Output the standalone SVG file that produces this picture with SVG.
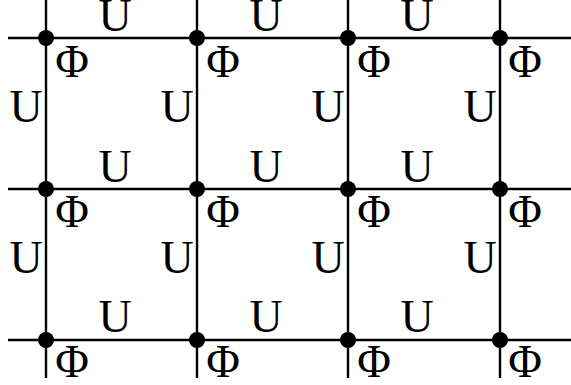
<svg xmlns="http://www.w3.org/2000/svg" width="571" height="385" viewBox="0 0 571 385">
<style>
.ln{stroke:#000;stroke-width:2.4;fill:none}
.dot{fill:#000}
text{font-family:"Liberation Serif","Times New Roman",serif;font-size:46px;fill:#000;text-anchor:middle}
</style>
<rect width="571" height="385" fill="#fff"/>
<g id="connectors">
<line class="ln" x1="8" y1="38" x2="571" y2="38"/>
<line class="ln" x1="8" y1="189" x2="571" y2="189"/>
<line class="ln" x1="8" y1="340" x2="571" y2="340"/>
<line class="ln" x1="46" y1="0" x2="46" y2="378"/>
<line class="ln" x1="197" y1="0" x2="197" y2="378"/>
<line class="ln" x1="348" y1="0" x2="348" y2="378"/>
<line class="ln" x1="500" y1="0" x2="500" y2="378"/>
</g>
<g id="edge-labels">
<text x="115" y="31">U</text><text x="266" y="31">U</text><text x="417" y="31">U</text>
<text x="115" y="182">U</text><text x="266" y="182">U</text><text x="417" y="182">U</text>
<text x="115" y="332">U</text><text x="266" y="332">U</text><text x="417" y="332">U</text>
<text x="26" y="122">U</text><text x="177" y="122">U</text><text x="328" y="122">U</text><text x="480" y="122">U</text>
<text x="26" y="273">U</text><text x="177" y="273">U</text><text x="328" y="273">U</text><text x="480" y="273">U</text>
</g>
<g id="n00"><circle class="dot" cx="46" cy="38" r="8"/><text x="72" y="77">Φ</text></g>
<g id="n01"><circle class="dot" cx="197" cy="38" r="8"/><text x="223" y="77">Φ</text></g>
<g id="n02"><circle class="dot" cx="348" cy="38" r="8"/><text x="374" y="77">Φ</text></g>
<g id="n03"><circle class="dot" cx="500" cy="38" r="8"/><text x="525" y="77">Φ</text></g>
<g id="n10"><circle class="dot" cx="46" cy="189" r="8"/><text x="72" y="227">Φ</text></g>
<g id="n11"><circle class="dot" cx="197" cy="189" r="8"/><text x="223" y="227">Φ</text></g>
<g id="n12"><circle class="dot" cx="348" cy="189" r="8"/><text x="374" y="227">Φ</text></g>
<g id="n13"><circle class="dot" cx="500" cy="189" r="8"/><text x="525" y="227">Φ</text></g>
<g id="n20"><circle class="dot" cx="46" cy="340" r="8"/><text x="72" y="377">Φ</text></g>
<g id="n21"><circle class="dot" cx="197" cy="340" r="8"/><text x="223" y="377">Φ</text></g>
<g id="n22"><circle class="dot" cx="348" cy="340" r="8"/><text x="374" y="377">Φ</text></g>
<g id="n23"><circle class="dot" cx="500" cy="340" r="8"/><text x="525" y="377">Φ</text></g>
</svg>
